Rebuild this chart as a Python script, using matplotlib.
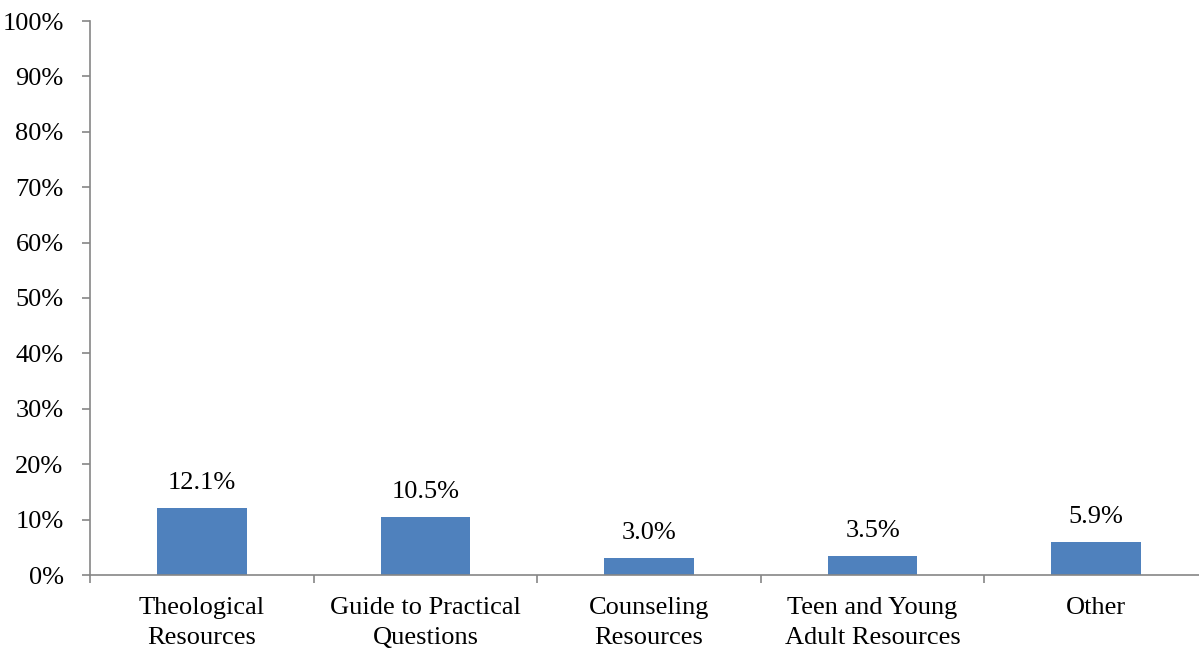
import matplotlib
matplotlib.use("Agg")
import matplotlib.pyplot as plt
import numpy as np

categories = ["Theological\nResources", "Guide to Practical\nQuestions", "Counseling\nResources",
              "Teen and Young\nAdult Resources", "Other"]
values = [12.1, 10.5, 3.0, 3.5, 5.9]
labels = ["12.1%", "10.5%", "3.0%", "3.5%", "5.9%"]
yticks = [0, 10, 20, 30, 40, 50, 60, 70, 80, 90, 100]

plt.rcParams['font.family'] = ['Liberation Serif', 'DejaVu Serif']
FS = 19
W, H = 1199, 649
fig = plt.figure(figsize=(W/100, H/100), dpi=100)
left, right, bottom, top = 90, 1208, 575, 21
ax = fig.add_axes([left/W, (H-bottom)/H, (right-left)/W, (bottom-top)/H])

x = np.arange(len(categories))
ax.bar(x, values, width=0.4, color="#4F81BD")
for xi, v, lab in zip(x, values, labels):
    ax.annotate(lab, (xi, v), xytext=(0, 10), textcoords="offset points",
                ha="center", va="bottom", fontsize=FS)

ax.set_xlim(-0.5, len(categories) - 0.5)
ax.set_ylim(0, 100)
ax.set_yticks(yticks)
ax.set_yticklabels([f"{t}%" for t in yticks], fontsize=FS)
ax.set_xticks(x)
ax.set_xticklabels(categories, fontsize=FS, linespacing=1.5)
ax.tick_params(axis="x", length=0, pad=15.5)
ax.set_xticks(np.arange(-0.5, len(categories) + 0.5, 1), minor=True)
ax.tick_params(axis="x", which="minor", length=6, color="#868686", width=1.2)
ax.tick_params(axis="y", length=6, color="#868686", width=1.2, pad=13)
for s in ["top", "right"]:
    ax.spines[s].set_visible(False)
for s in ["left", "bottom"]:
    ax.spines[s].set_color("#868686")
    ax.spines[s].set_linewidth(1.2)

fig.savefig("out.png", dpi=100)
